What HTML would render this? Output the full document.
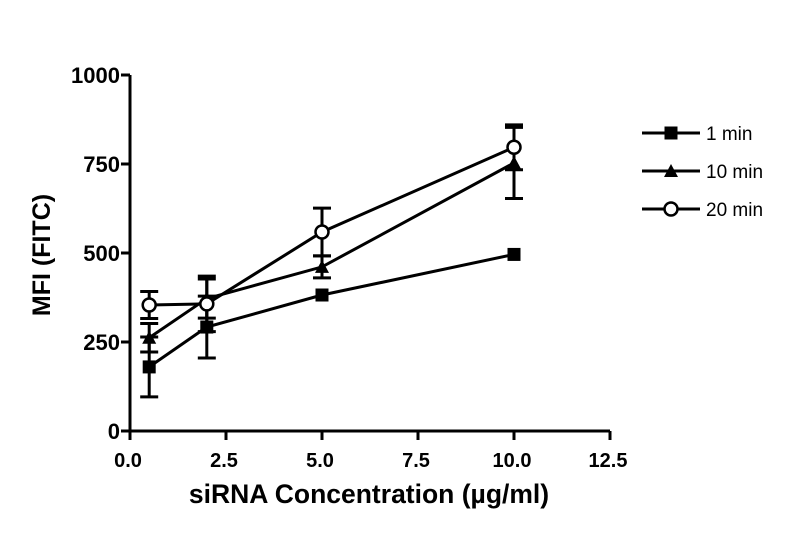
<!DOCTYPE html>
<html><head><meta charset="utf-8"><style>
body{margin:0;background:#fff}
svg text{font-family:"Liberation Sans",Arial,sans-serif;font-weight:bold;fill:#000}
</style></head><body>
<svg width="785" height="534" viewBox="0 0 785 534">
<g id="axes"></g><g id="plot"></g><g id="legend"></g>
<text x="50" y="255" font-size="25" text-anchor="middle" transform="rotate(-90 50 255)">MFI (FITC)</text>
<text x="369" y="503" font-size="26.5" text-anchor="middle">siRNA Concentration (µg/ml)</text>
</svg>
<script>
const xVals=[0.5,2,5,10];
const series1=[180,292,382,496];
const err1=[84,87,0,0];
const series10=[262,372,461,753];
const err10=[40,55,31,100];
const series20=[354,357,559,797];
const err20=[38,78,67,63];
const xTicks=[0,2.5,5,7.5,10,12.5];
const xTickLabels=["0.0","2.5","5.0","7.5","10.0","12.5"];
const yTicks=[0,250,500,750,1000];
const seriesNames=["1 min","10 min","20 min"];
const NS="http://www.w3.org/2000/svg";
const X=v=>130+v*(480/12.5);
const Y=v=>431-v*0.356;
function mk(tag,attrs,parent){const e=document.createElementNS(NS,tag);for(const k in attrs)e.setAttribute(k,attrs[k]);parent.appendChild(e);return e;}
const axes=document.getElementById('axes'),plot=document.getElementById('plot'),leg=document.getElementById('legend');
let a=mk('path',{d:`M130 ${Y(1000)} V431 H${X(12.5)}`,stroke:'#000','stroke-width':3,fill:'none'},axes);


yTicks.forEach(t=>{
 let l=mk('line',{x1:121,x2:130,y1:Y(t),y2:Y(t),stroke:'#000','stroke-width':3},axes);
 
 
 let tx=mk('text',{x:120,y:Y(t)+8,'font-size':22,'text-anchor':'end'},axes);tx.textContent=t;
 
 
});
xTicks.forEach((t,i)=>{
 let l=mk('line',{x1:X(t),x2:X(t),y1:431,y2:440,stroke:'#000','stroke-width':3},axes);
 
 
 let tx=mk('text',{x:X(t)-2,y:467,'font-size':20,'text-anchor':'middle'},axes);tx.textContent=xTickLabels[i];
 
 
});
function marker(type,x,y,g){
 let m;
 if(type==0)m=mk('rect',{x:x-6.5,y:y-6.5,width:13,height:13,fill:'#000'},g);
 else if(type==1)m=mk('path',{d:`M${x} ${y-7}L${x+7} ${y+6}L${x-7} ${y+6}Z`,fill:'#000'},g);
 else m=mk('circle',{cx:x,cy:y,r:6.5,fill:'#fff',stroke:'#000','stroke-width':2.5},g);
 return m;
}
const all=[[series1,err1],[series10,err10],[series20,err20]];
all.forEach(([vals,errs],si)=>{
 const g=mk('g',{},plot);
 
 
 vals.forEach((v,i)=>{
  if(errs[i]>0){
   const x=X(xVals[i]);
   let e=mk('path',{d:`M${x} ${Y(v-errs[i])}V${Y(v+errs[i])}M${x-9} ${Y(v-errs[i])}H${x+9}M${x-9} ${Y(v+errs[i])}H${x+9}`,stroke:'#000','stroke-width':3,fill:'none'},g);
   
   
  }
 });
 let p=mk('polyline',{points:vals.map((v,i)=>X(xVals[i])+','+Y(v)).join(' '),stroke:'#000','stroke-width':3,fill:'none'},g);
 
 
 vals.forEach((v,i)=>{
  let m=marker(si,X(xVals[i]),Y(v),g);
  
  
 });
 const ly=133+si*38;
 let ll=mk('line',{x1:642,x2:700,y1:ly,y2:ly,stroke:'#000','stroke-width':3},leg);
 
 
 let lm=marker(si,671,ly,leg);
 
 
 let lt=mk('text',{x:706,y:ly+7,'font-size':19},leg);lt.textContent=seriesNames[si];
 lt.style.fontWeight='normal';
 
 
});
</script>
</body></html>
